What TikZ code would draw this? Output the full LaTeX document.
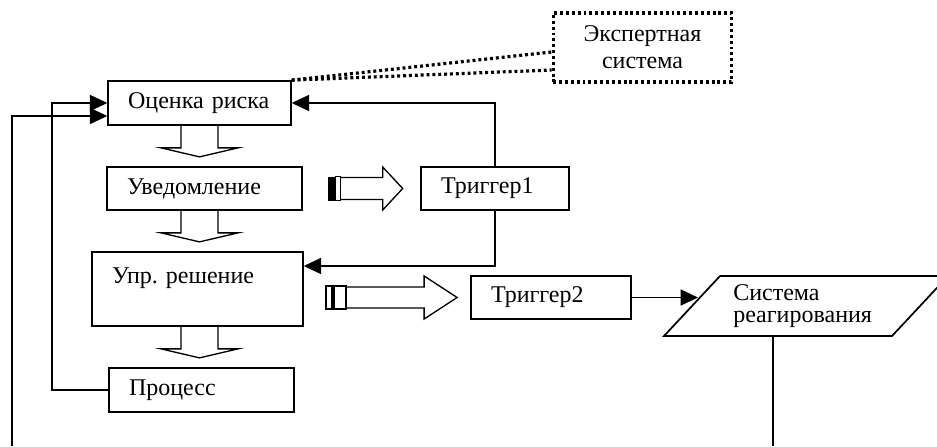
\documentclass[tikz,border=0pt]{standalone}
\usepackage{fontspec}
\setmainfont{Liberation Serif}
\usetikzlibrary{arrows.meta,calc}

\begin{document}
\begin{tikzpicture}[
 x=0.75pt,y=-0.75pt,
 every node/.style={font=\fontsize{18}{20}\selectfont},
 box/.style={draw,line width=1.3pt,align=left,inner xsep=15pt,inner ysep=0pt,
 minimum height=33pt},
 expbox/.style={draw,line width=2.4pt,dash pattern=on 2.2pt off 2.2pt,align=center,
 minimum width=134pt,minimum height=51.75pt},
 arr/.style={-{Triangle[length=13pt,width=12pt]},line width=1.1pt},
 dots/.style={line width=2.4pt,dash pattern=on 2.2pt off 2.2pt},
 blk/.style={line width=1pt},
 downblk/.pic={\draw[blk] (-18.5,0) -- (-18.5,22) -- (-38.5,22) -- (0,31)
 -- (38.5,22) -- (18.5,22) -- (18.5,0);},
 rblkA/.pic={\fill (0,-12) rectangle (7,12);
 \draw[blk] (8,-12) rectangle (13,12);
 \draw[blk] (13,-11) -- (55,-11) -- (55,-21.5) -- (75,0) -- (55,21.5)
 -- (55,11) -- (13,11);},
 rblkB/.pic={\draw[blk] (0,-11.5) rectangle (6,11.5);
 \draw[blk] (8,-11.5) rectangle (20,11.5);
 \draw[blk] (20,-10.5) -- (98,-10.5) -- (98,-21.5) -- (131,0) -- (98,21.5)
 -- (98,10.5) -- (20,10.5);}]
\useasboundingbox (0,0) rectangle (937,446);
\clip (0,0) rectangle (937,446);
\node[box,text width=107pt] (ocenka) at (199.5,103) {Оценка риска};
\node[box,text width=116pt,minimum height=32.25pt] (uved) at (204.5,188.5) {Уведомление};
\node[box,text width=81pt,minimum height=32.25pt] (trig1) at (495,188.5) {Триггер1};
\node[box,text width=128pt,minimum height=55.5pt] (upr) at (197.5,289) {Упр.\ решение\\\mbox{}};
\node[box,text width=108.75pt] (proc) at (201.5,390) {Процесс};
\node[box,text width=90pt,minimum height=32.25pt] (trig2) at (551,297.5) {Триггер2};
\node[expbox] (expert) at (642.5,47.5) {Экспертная\\система};
\draw[line width=1.3pt] (664,336) -- (720,276) -- (948,276) -- (892,336) -- cycle;
\node[align=left,anchor=west,inner sep=0pt,font=\fontsize{18}{16.5}\selectfont]
 (sys) at (733,306) {Система\\реагирования};
\coordinate (sysS) at (773,336);
\coordinate (sysW) at (698,297.5);
\coordinate (fbL) at (12,446);
\pic at (ocenka.south) {downblk};
\pic at (uved.south -| ocenka.south) {downblk};
\pic at (upr.south -| ocenka.south) {downblk};
\pic at ($(uved.east)+(25,0)$) {rblkA};
\pic at ($(trig2.west)+(-144,0)$) {rblkB};
\draw[arr] (proc.west) -- ++(-56,0) |- (ocenka.west);
\draw[arr] (fbL) |- ($(ocenka.west)+(0,13)$);
\draw[arr] (trig1.north) |- (ocenka.east);
\draw[arr] (trig1.south) |- ($(upr.east)+(0,-23)$);
\draw[arr] (trig2.east) -- (trig2.east -| sysW);
\draw[line width=1.1pt] (sysS) -- (sysS |- fbL);
\draw[dots] (ocenka.north east) -- ($(expert.west)+(0,4.5)$);
\draw[dots] (ocenka.north east) -- ($(expert.west)+(0,22.5)$);
\end{tikzpicture}
\end{document}
